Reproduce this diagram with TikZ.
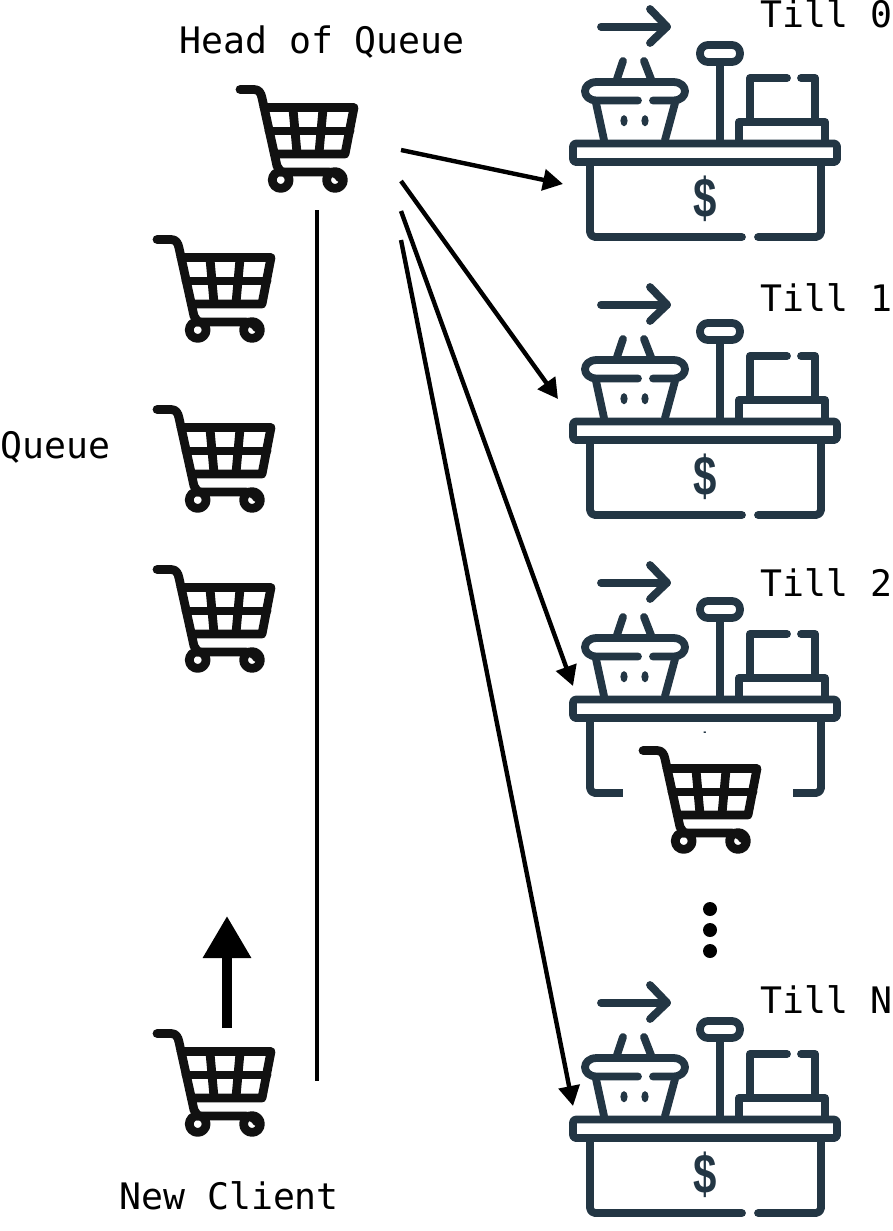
\documentclass[tikz,border=0pt]{standalone}
\usepackage{fontspec}
\setmonofont{DejaVu Sans Mono}
\setsansfont{Liberation Sans}
\usetikzlibrary{arrows.meta}
\definecolor{cartink}{HTML}{111111}
\definecolor{tillink}{HTML}{233644}
\tikzset{
  lbl/.style={font=\ttfamily\fontsize{36.5}{36.5}\selectfont,anchor=base west,inner sep=0pt,black},
  flow/.style={-{Triangle[length=20pt,width=21pt]},line width=4.4pt,black},
  cart/.pic={
    \begin{scope}[cartink,line width=8.8pt,line cap=round,line join=round]
      \draw (20,19.5)--(34,19.5) .. controls (39,19.5) and (41,23) .. (42,28)--(57,96) -- (61,102);
      \draw (44,37.5)--(134,37.5)--(125,84)--(55,84);
      \draw (49,61)--(130,61);
      \draw (73,39)--(77,83);
      \draw (103,39)--(99,83);
      \draw (60,102)--(108,102) .. controls (113,102) and (118,104) .. (120,108);
      \draw (60.7,110) circle (8.4);
      \draw (115,110) circle (8.4);
    \end{scope}
  },
  till/.pic={
    \begin{scope}[tillink,line width=7.8pt,line cap=round,line join=round]
      % arrow
      \draw (41,26.7)--(107,26.7);
      \draw (90,9)--(107,26.7)--(90,43);
      % basket
      \draw (78,100.5)--(37,100.5) .. controls (21,100.5) and (21,82) .. (37,82)--(113,82)
        .. controls (129,82) and (129,100.5) .. (113,100.5)--(93,100.5);
      \draw (36,103)--(44,140);
      \draw (115,103)--(105,140);
      \draw (63,61)--(57,79);
      \draw (84,61)--(91,79);
      \fill (64,120.7) ellipse (3.6 and 5.6);
      \fill (85,120.7) ellipse (3.6 and 5.6);
      % scale
      \draw[rounded corners=8pt] (140,45) rectangle (180,62);
      \draw (160,62)--(160,140);
      % register
      \draw (190,120)--(190,78)--(227,78);
      \draw (241,78)--(255,78)--(255,120);
      \draw (179,140)--(179,122)--(265,122)--(265,140);
      % counter
      \draw[rounded corners=3pt] (13,143.5) rectangle (277,162);
      \draw[rounded corners=5pt] (30,163)--(30,237)--(182,237);
      \draw[rounded corners=5pt] (198,237)--(261,237)--(261,163);
      \node[font=\sffamily\bfseries\fontsize{56}{56}\selectfont,inner sep=0pt,xscale=.75] (dollar) at (145,199) {\$};
    \end{scope}
  }
}
\begin{document}
\begin{tikzpicture}[x=1pt,y=-1pt]
  \useasboundingbox (0,0) rectangle (892,1231);
  \foreach \tilly in {0,278,556,976} \pic at (560,\tilly) {till};
  % cart parked in front of till 2
  \fill[white] (623,733) rectangle (793,812);
  \foreach \carty/\cartx in {70/220,220/137,390/137,550/137,1014/137,731/623} \pic at (\cartx,\carty) {cart};
  \node[lbl] (head) at (179,53) {Head of Queue};
  \node[lbl] (queue) at (0,458) {Queue};
  \node[lbl] (client) at (119,1209) {New Client};
  \node[lbl] (till0) at (760,28) {Till 0};
  \node[lbl] (till1) at (760,311) {Till 1};
  \node[lbl] (till2) at (760,596) {Till 2};
  \node[lbl] (tilln) at (760,1013) {Till N};
  \coordinate (linetop) at (317,210);
  \coordinate (linebottom) at (317,1081);
  \draw[black,line width=4.4pt] (linetop)--(linebottom);
  \coordinate (out0) at (401,150);
  \coordinate (out1) at (401,181);
  \coordinate (out2) at (401,211);
  \coordinate (outn) at (401,240);
  \coordinate (in0) at (563,184);
  \coordinate (in1) at (558,399);
  \coordinate (in2) at (573,686);
  \coordinate (inn) at (573,1106);
  \draw[flow] (out0)--(in0);
  \draw[flow] (out1)--(in1);
  \draw[flow] (out2)--(in2);
  \draw[flow] (outn)--(inn);
  \coordinate (upfrom) at (227,1028);
  \coordinate (upto) at (227,916);
  \draw[-{Triangle[length=42pt,width=46pt]},line width=9.5pt,black] (upfrom)--(upto);
  \foreach \doty in {909,930,951} \fill[black] (710,\doty) circle (7);
\end{tikzpicture}
\end{document}
